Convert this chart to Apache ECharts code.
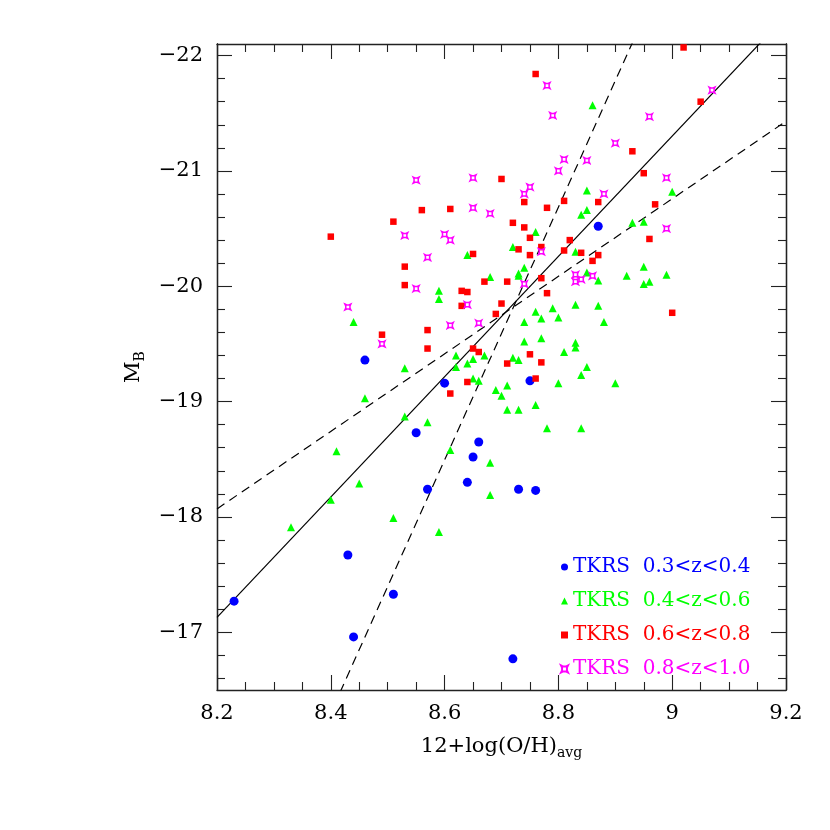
<!DOCTYPE html>
<html>
<head>
<meta charset="utf-8">
<script src="https://cdn.jsdelivr.net/npm/echarts@6/dist/echarts.min.js"></script>
<style>
  html, body { margin: 0; background: #fff; }
  #chart { width: 830px; height: 830px; }
</style>
</head>
<body>
<div id="chart"></div>
<script>
// [12+log(O/H), M_B]
const tkrs03 = [
  [8.87, -20.52], [8.46, -19.36], [8.60, -19.16], [8.75, -19.18], [8.55, -18.73],
  [8.66, -18.65], [8.65, -18.52], [8.57, -18.24], [8.64, -18.30], [8.73, -18.24],
  [8.76, -18.23], [8.43, -17.67], [8.23, -17.27], [8.51, -17.33], [8.44, -16.96],
  [8.72, -16.77]
]
const tkrs04 = [
  [8.86, -21.57], [8.85, -20.83], [9.00, -20.82], [8.85, -20.66], [8.84, -20.62],
  [8.93, -20.55], [8.95, -20.56], [8.76, -20.47], [8.72, -20.34], [8.83, -20.30],
  [8.64, -20.27], [8.95, -20.17], [8.74, -20.16], [8.68, -20.08], [8.73, -20.11],
  [8.73, -20.09], [8.85, -20.12], [8.87, -20.05], [8.92, -20.09], [8.95, -20.02],
  [8.96, -20.04], [8.99, -20.10], [8.59, -19.96], [8.59, -19.89], [8.44, -19.69],
  [8.53, -19.29], [8.62, -19.40], [8.62, -19.30], [8.65, -19.37], [8.64, -19.33],
  [8.67, -19.40], [8.65, -19.20], [8.66, -19.18], [8.69, -19.10], [8.70, -19.05],
  [8.71, -19.14], [8.71, -18.93], [8.46, -19.03], [8.53, -18.87], [8.57, -18.82],
  [8.61, -18.58], [8.68, -18.47], [8.41, -18.57], [8.68, -18.19], [8.45, -18.29],
  [8.40, -18.15], [8.51, -17.99], [8.33, -17.91], [8.59, -17.87], [8.83, -19.84],
  [8.87, -19.83], [8.76, -19.78], [8.79, -19.81], [8.74, -19.69], [8.77, -19.72],
  [8.80, -19.73], [8.88, -19.69], [8.74, -19.52], [8.77, -19.55], [8.83, -19.51],
  [8.83, -19.47], [8.81, -19.43], [8.72, -19.38], [8.73, -19.36], [8.85, -19.30],
  [8.84, -19.23], [8.80, -19.16], [8.90, -19.16], [8.73, -18.93], [8.76, -18.97],
  [8.78, -18.77], [8.84, -18.77]
]
const tkrs06 = [
  [9.02, -22.07], [8.76, -21.84], [9.05, -21.60], [8.93, -21.17], [8.95, -20.98],
  [8.70, -20.93], [8.56, -20.66], [8.61, -20.67], [8.51, -20.56], [8.40, -20.43],
  [8.65, -20.28], [8.53, -20.17], [8.67, -20.04], [8.71, -20.04], [8.53, -20.01],
  [8.63, -19.96], [8.64, -19.95], [8.74, -20.73], [8.81, -20.74], [8.87, -20.73],
  [8.78, -20.68], [8.97, -20.71], [8.72, -20.55], [8.74, -20.51], [8.75, -20.42],
  [8.96, -20.41], [8.73, -20.32], [8.77, -20.34], [8.82, -20.40], [8.75, -20.27],
  [8.81, -20.31], [8.84, -20.29], [8.87, -20.27], [8.86, -20.22], [8.77, -20.07],
  [8.78, -19.94], [8.63, -19.83], [8.70, -19.85], [8.69, -19.76], [8.49, -19.58],
  [8.57, -19.62], [8.57, -19.46], [8.65, -19.46], [8.66, -19.43], [8.71, -19.33],
  [8.64, -19.17], [8.61, -19.07], [9.00, -19.77], [8.75, -19.41], [8.77, -19.34],
  [8.76, -19.20]
]
const tkrs08 = [
  [8.55, -20.92], [8.65, -20.94], [8.65, -20.68], [8.68, -20.63], [8.53, -20.44],
  [8.60, -20.45], [8.61, -20.40], [8.57, -20.25], [8.55, -19.98], [8.78, -21.74],
  [9.07, -21.70], [8.79, -21.48], [8.96, -21.47], [8.90, -21.24], [8.81, -21.10],
  [8.85, -21.09], [8.80, -21.00], [8.99, -20.94], [8.75, -20.86], [8.74, -20.80],
  [8.88, -20.80], [8.99, -20.50], [8.77, -20.30], [8.74, -20.02], [8.83, -20.10],
  [8.83, -20.04], [8.84, -20.06], [8.86, -20.09], [8.43, -19.82], [8.64, -19.84],
  [8.61, -19.66], [8.66, -19.68], [8.49, -19.50]
]

// fitted relations: M_B = a + b * (x - 8.2)
const fitNames = ['fit', 'fitSteep', 'fitShallow']
const fitA = [-17.13, -14.11, -18.07]
const fitB = [-5.215, -10.96, -3.36]
const fitDash = [false, true, true]

const xRange = [8.2, 9.2]
const yRange = [-22.1, -16.5]
const yMajor = [-22, -21, -20, -19, -18, -17]
const yMinor = [-21.8, -21.6, -21.4, -21.2, -20.8, -20.6, -20.4, -20.2,
  -19.8, -19.6, -19.4, -19.2, -18.8, -18.6, -18.4, -18.2,
  -17.8, -17.6, -17.4, -17.2, -16.8, -16.6]

const groupNames = ['TKRS  0.3<z<0.4', 'TKRS  0.4<z<0.6', 'TKRS  0.6<z<0.8', 'TKRS  0.8<z<1.0']
const groupColors = ['#0000ff', '#00ff00', '#ff0000', '#ff00ff']

const font = 'DejaVu Serif'
const axisColor = '#222'
// small hollow square with pinched sides, like the plot's marker
const starPath = 'path://M0,0 L2.5,1.2 L5.5,1.2 L8,0 L6.8,2.5 L6.8,5.5 L8,8 L5.5,6.8 L2.5,6.8 L0,8 L1.2,5.5 L1.2,2.5 Z'

const chart = echarts.init(document.getElementById('chart'))

const frameLine = { show: true, onZero: false, lineStyle: { color: axisColor, width: 1.3 } }
const tickStyle = { color: axisColor, width: 1.1 }

const xAxisBase = {
  type: 'value',
  min: xRange[0],
  max: xRange[1],
  interval: 0.2,
  axisLine: frameLine,
  axisTick: { inside: true, length: 15, lineStyle: tickStyle },
  minorTick: { show: true, splitNumber: 4, length: 8, lineStyle: tickStyle },
  splitLine: { show: false },
  minorSplitLine: { show: false }
}

const yAxisBase = {
  type: 'value',
  inverse: true,
  min: yRange[0],
  max: yRange[1],
  axisLine: frameLine,
  splitLine: { show: false }
}

const fitSeries = fitNames.map((n, i) => ({
  name: n,
  type: 'line',
  xAxisIndex: 0,
  yAxisIndex: 0,
  data: xRange.map(x => [x, fitA[i] + fitB[i] * (x - 8.2)]),
  showSymbol: false,
  silent: true,
  clip: true,
  z: 1,
  lineStyle: { color: '#000', width: 1.2, type: fitDash[i] ? [9, 6] : 'solid' }
}))

const groupData = [tkrs03, tkrs04, tkrs06, tkrs08]
const groupSymbols = ['circle', 'triangle', 'rect', starPath]
const groupSizes = [9, 8, 6.5, 6]

const pointSeries = groupData.map((d, i) => ({
  name: groupNames[i],
  type: 'scatter',
  xAxisIndex: 0,
  yAxisIndex: 0,
  data: d,
  symbol: groupSymbols[i],
  symbolSize: groupSizes[i],
  z: 3,
  itemStyle: i === 3
    ? { color: 'rgba(0,0,0,0)', borderColor: groupColors[i], borderWidth: 1.5, opacity: 1 }
    : { color: groupColors[i], opacity: 1 }
}))

chart.setOption({
  animation: false,
  backgroundColor: '#fff',
  grid: [
    { left: 217, top: 44, width: 569, height: 646 },
    { left: 217, top: 44, width: 569, height: 646 }
  ],
  xAxis: [
    {
      ...xAxisBase,
      gridIndex: 0,
      position: 'bottom',
      axisLabel: { fontFamily: font, fontSize: 21, color: '#000', margin: 13 },
      name: '{m|12+log(O/H)}{s|avg}',
      nameLocation: 'middle',
      nameGap: 44,
      nameTextStyle: {
        rich: {
          m: { fontFamily: font, fontSize: 21, color: '#000' },
          s: { fontFamily: font, fontSize: 14, color: '#000', padding: [12, 0, 0, 0] }
        }
      }
    },
    { ...xAxisBase, gridIndex: 0, position: 'top', axisLabel: { show: false } },
    { ...xAxisBase, gridIndex: 1, show: false }
  ],
  yAxis: [
    {
      ...yAxisBase,
      gridIndex: 0,
      position: 'left',
      axisTick: { inside: true, length: 15, lineStyle: tickStyle, customValues: yMajor },
      axisLabel: {
        fontFamily: font, fontSize: 21, color: '#000', margin: 14,
        customValues: yMajor,
        formatter: v => '\u2212' + Math.abs(v)
      },
      name: '{m|M}{s|B}',
      nameLocation: 'middle',
      nameGap: 70,
      nameTextStyle: {
        rich: {
          m: { fontFamily: font, fontSize: 21, color: '#000' },
          s: { fontFamily: font, fontSize: 14, color: '#000', padding: [12, 0, 0, 0] }
        }
      }
    },
    {
      ...yAxisBase,
      gridIndex: 0,
      position: 'right',
      axisTick: { inside: true, length: 15, lineStyle: tickStyle, customValues: yMajor },
      axisLabel: { show: false }
    },
    {
      ...yAxisBase,
      gridIndex: 1,
      position: 'left',
      axisTick: { inside: true, length: 8, lineStyle: tickStyle, customValues: yMinor },
      axisLabel: { show: false }
    },
    {
      ...yAxisBase,
      gridIndex: 1,
      position: 'right',
      axisTick: { inside: true, length: 8, lineStyle: tickStyle, customValues: yMinor },
      axisLabel: { show: false }
    }
  ],
  legend: {
    orient: 'vertical',
    left: 555,
    top: 552,
    itemGap: 14,
    itemWidth: 7,
    itemHeight: 7,
    selectedMode: false,
    textStyle: { fontFamily: font, fontSize: 20 },
    data: groupNames.map((n, i) => ({ name: n, textStyle: { color: groupColors[i] } }))
  },
  series: [...fitSeries, ...pointSeries]
})
</script>
</body>
</html>
